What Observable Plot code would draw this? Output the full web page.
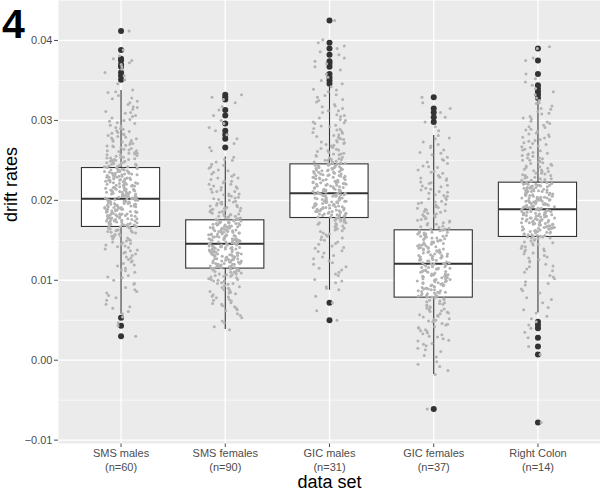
<!DOCTYPE html>
<html><head><meta charset="utf-8">
<script src="https://cdn.jsdelivr.net/npm/d3@7"></script>
<script src="https://cdn.jsdelivr.net/npm/@observablehq/plot@0.6"></script>
<style>
body{margin:0;background:#fff;font-family:"Liberation Sans",Arial,sans-serif;}
#wrap{position:relative;width:600px;height:494px;overflow:hidden;}
#tag{position:absolute;left:0;top:0;}
</style></head><body>
<div id="wrap"><div id="chart"></div>
<svg id="tag" width="45" height="48"><text x="2" y="38" font-family="Liberation Sans, Arial, sans-serif" font-weight="bold" font-size="41">4</text></svg>
</div>
<script>
// categories and labels
const groups = ["SMS males", "SMS females", "GIC males", "GIC females", "Right Colon"];
const groupN = ["(n=60)", "(n=90)", "(n=31)", "(n=37)", "(n=14)"];
const yTicks = [-0.01, 0.00, 0.01, 0.02, 0.03, 0.04];
const yMinor = [-0.005, 0.005, 0.015, 0.025, 0.035];

// boxplot statistics (drift rate)
const q1 = [0.01667, 0.01146, 0.01779, 0.00783, 0.01542];
const median = [0.02021, 0.01458, 0.02090, 0.01208, 0.01887];
const q3 = [0.02404, 0.01750, 0.02450, 0.01625, 0.02221];
const whiskerLow = [0.00575, 0.00383, 0.00875, -0.00179, 0.00592];
const whiskerHigh = [0.03375, 0.02542, 0.03417, 0.02812, 0.03250];

// outliers (drift rate)
const outSMSm = [0.0412, 0.0388, 0.0377, 0.0375, 0.0370, 0.0367, 0.0360, 0.0356, 0.0351, 0.0053, 0.0043, 0.0030];
const outSMSf = [0.0332, 0.0329, 0.0326, 0.0313, 0.0306, 0.0296, 0.0287, 0.0282, 0.0277, 0.0266];
const outGICm = [0.0425, 0.0397, 0.0390, 0.0382, 0.0374, 0.0371, 0.0367, 0.0358, 0.0354, 0.0350, 0.0346, 0.0072, 0.0050];
const outGICf = [0.0329, 0.0315, 0.0310, 0.0304, 0.0298, -0.0061];
const outRC = [0.0390, 0.0375, 0.0358, 0.0344, 0.0340, 0.0336, 0.0332, 0.0328, 0.0048, 0.0044, 0.0040, 0.0028, 0.0017, 0.0007, -0.0078];

// jittered drift rates (units of 1e-4)
const ptsSMSm = [412,388,381,377,375,372,370,367,364,360,356,351,346,
338,336,331,327,324,320,317,314,311,309,306,303,301,299,296,294,291,289,287,285,283,281,279,277,276,274,272,271,269,268,266,265,263,262,261,259,258,257,255,254,253,252,251,250,249,248,247,246,245,244,243,242,241,
240,239,239,238,237,236,236,235,234,234,233,232,231,231,230,229,228,228,227,226,225,225,224,223,222,222,221,220,219,219,218,217,216,216,215,214,213,213,212,211,210,210,209,208,207,207,206,205,204,204,203,202,
202,201,200,200,199,198,198,197,196,196,195,194,194,193,192,191,191,190,189,189,188,187,187,186,185,185,184,183,182,182,181,180,180,179,178,178,177,176,175,175,174,173,173,172,171,170,170,169,168,168,167,
166,165,164,163,162,161,160,159,157,156,155,154,152,151,149,148,146,145,143,141,139,137,135,133,131,128,126,123,121,118,115,113,110,106,104,100,96,91,88,84,81,75,70,65,58,54,47,43,30,
335,328,322,316,310,305,300,297,293,290,286,284,282,280,278,275,273,270,268,267,264,262,260,259,257,256,254,253,251,250,249,248,247,246,245,244,243,242,241,
240,239,238,237,237,236,235,234,233,233,232,231,230,229,229,228,227,226,226,225,224,223,222,221,221,220,219,218,218,217,216,215,214,214,213,212,211,211,210,209,208,208,207,206,205,205,204,203,202,201,201,200,199,199,198,197,196,195,195,194,193,192,192,191,190,189,188,188,187,186,186,185,184,183,183,182,181,181,180,179,178,177,177,176,175,174,174,173,172,171,171,170,169,168,167,
166,165,163,162,160,158,157,155,153,150,147,144,142,138,134,129,124,119,112,103,95,86,78,67,61];
const ptsSMSf = [332,329,326,322,317,313,306,300,296,291,287,282,277,271,266,262,
254,251,248,245,242,240,237,235,232,230,228,226,224,222,220,218,216,215,213,211,210,208,207,205,204,202,201,199,198,197,195,194,193,191,190,189,188,187,186,185,184,183,182,181,180,179,178,177,176,
175,174,174,173,172,171,171,170,169,168,168,167,166,166,165,164,163,163,162,161,160,160,159,158,157,157,156,155,155,154,153,152,152,151,150,150,149,148,147,147,146,
146,145,144,144,143,142,141,141,140,139,138,138,137,136,135,135,134,133,132,132,131,130,129,129,128,127,126,126,125,124,123,123,122,121,120,120,119,118,117,117,116,115,
114,113,112,111,110,109,108,107,106,105,104,102,101,100,99,97,96,95,93,92,90,89,87,85,84,82,80,78,76,74,72,70,68,65,62,58,53,47,42,38,
250,244,238,233,228,224,220,217,214,211,208,206,203,200,198,196,194,192,190,188,186,185,183,182,180,179,178,177,176,
175,174,173,172,172,171,170,169,169,168,167,166,165,165,164,163,162,162,161,160,159,158,158,157,156,155,154,154,153,152,151,151,150,149,148,148,147,146,145,145,144,143,142,142,141,140,139,139,138,137,136,136,135,134,133,133,132,131,130,130,129,128,127,127,126,125,124,124,123,122,121,121,120,119,118,118,117,116,115,
114,113,111,110,108,107,105,103,101,99,98,96,94,91,88,86,83,79,75,71,67,63,56,49];
const ptsGICm = [425,401,397,393,390,386,382,378,374,371,367,363,358,354,350,346,
342,339,336,332,329,326,323,320,317,315,312,310,307,305,303,300,298,296,294,292,290,288,286,284,282,280,278,277,275,273,272,270,268,267,265,264,262,261,259,258,257,255,254,252,251,250,249,248,247,246,
245,244,243,242,241,240,240,239,238,237,236,235,234,233,232,231,231,230,229,228,227,226,225,224,223,222,222,221,220,219,218,217,216,215,214,213,213,212,211,210,209,
209,208,207,206,206,205,204,203,202,202,201,200,199,198,198,197,196,195,194,194,193,192,191,190,190,189,188,187,186,186,185,184,183,182,182,181,180,179,178,
177,176,175,173,172,171,169,168,166,165,163,161,159,157,155,153,151,148,146,143,140,137,134,131,127,124,120,117,113,110,106,101,97,92,88,80,72,62,50,
338,331,325,318,312,306,301,297,293,289,285,281,279,276,273,271,269,266,263,260,258,256,253,251,250,248,247,246,
245,244,243,242,241,240,239,238,238,237,236,235,234,233,232,231,230,229,229,228,227,226,225,224,223,222,221,220,220,219,218,217,216,215,214,213,212,211,211,210,209,208,207,207,206,205,204,203,203,202,201,200,199,199,198,197,196,195,195,194,193,192,191,191,190,189,188,187,187,186,185,184,183,183,182,181,180,179,178,
177,175,174,172,170,167,164,162,158,154,150,145,141,136,129,122,115,108,99,90];
const ptsGICf = [329,322,315,310,304,298,292,287,
281,277,273,270,266,263,260,257,254,251,248,246,243,241,238,236,234,231,229,227,225,223,221,219,217,215,213,211,209,207,205,203,201,199,197,196,194,192,190,189,187,185,184,182,180,179,177,176,174,173,171,170,168,167,165,164,
163,162,161,160,159,158,157,156,155,154,153,152,151,150,149,148,147,146,145,144,143,142,141,140,139,138,137,136,135,134,133,132,131,130,129,128,127,126,125,124,123,122,121,
120,119,118,117,116,115,114,113,112,111,110,109,108,107,106,105,104,103,102,101,100,99,98,97,96,95,94,93,92,91,90,89,88,87,86,85,84,83,82,81,80,79,78,
77,75,74,72,71,69,68,66,65,63,61,60,58,56,54,52,50,48,46,44,42,40,38,36,34,32,29,27,24,21,18,15,11,6,-2,-8,-13,-18,-61,
278,268,259,250,242,235,228,222,218,214,210,206,202,198,195,191,188,186,183,181,178,175,172,169,166,164,
163,162,160,159,158,157,155,154,153,152,150,149,148,147,145,144,143,141,140,139,138,136,135,134,133,131,130,129,128,126,125,124,122,121,120,119,117,116,115,114,112,111,110,108,107,106,105,103,102,101,99,98,97,96,94,93,92,90,89,88,87,85,84,83,81,80,79,
76,73,70,67,64,62,59,57,55,51,49,45,41,37,33,30,25,20,13,4,-5];
const ptsRC = [392,390,378,375,358,352,348,344,340,336,332,328,
325,321,318,314,311,308,305,302,299,296,294,291,289,286,284,282,280,278,276,274,272,270,268,266,264,262,260,258,257,255,253,252,250,249,247,246,244,243,241,240,238,237,236,234,233,232,231,229,228,227,226,225,224,223,
222,221,220,219,219,218,217,216,215,215,214,213,212,211,211,210,209,208,207,207,206,205,204,203,203,202,201,200,199,199,198,197,196,195,195,194,193,192,191,191,190,189,
189,188,187,186,186,185,184,183,182,182,181,180,179,178,178,177,176,175,174,174,173,172,171,170,170,169,168,167,166,166,165,164,163,162,162,161,160,159,158,157,156,155,154,
153,152,150,149,147,146,144,142,140,138,136,134,131,129,126,123,120,117,114,110,106,102,98,94,89,84,78,72,66,59,52,48,44,40,35,28,17,7,-78,
322,315,309,303,298,292,288,283,279,275,271,267,263,259,256,253,250,248,245,242,239,236,234,231,229,227,225,223,
222,221,220,220,219,218,217,216,216,215,214,213,212,212,211,210,209,208,208,207,206,205,204,204,203,202,201,200,200,199,198,197,196,196,195,194,193,192,192,191,190,189,188,188,187,186,185,184,184,183,182,181,180,180,179,178,177,176,176,175,174,173,172,172,171,170,169,168,168,167,166,165,164,164,163,162,161,160,159,158,157,156,155,154,
153,151,148,145,143,139,137,133,128,124,118,112,104,96,87,76,63,55];

// ---- build tables ----
const pointSets = [ptsSMSm, ptsSMSf, ptsGICm, ptsGICf, ptsRC];
const outSets = [outSMSm, outSMSf, outGICm, outGICf, outRC];
const boxes = groups.map((name, i) => ({g: i + 1, q1: q1[i], med: median[i], q3: q3[i], wl: whiskerLow[i], wh: whiskerHigh[i]}));
const outliers = outSets.flatMap((arr, i) => arr.map(v => ({g: i + 1, v})));
function jit(k) { const s = Math.sin(k * 12.9898 + 78.233) * 43758.5453; return s - Math.floor(s) - 0.5; }
const points = pointSets.flatMap((arr, i) => arr.map((v, k) => ({g: i + 1, v: v / 10000, j: jit(i * 1000 + k + 1) * 0.32})));

const halfW = 0.375;
const ink = "#333333";
const chart = Plot.plot({
  width: 600,
  height: 494,
  marginLeft: 58,
  marginRight: 0,
  marginTop: 0,
  marginBottom: 51,
  style: {fontFamily: "Liberation Sans, Arial, sans-serif", fontSize: "11px", color: "#4d4d4d", background: "white"},
  x: {domain: [0.4, 5.6], ticks: [1, 2, 3, 4, 5], tickFormat: () => "", tickSize: 4, label: null},
  y: {domain: [-0.01042, 0.045], ticks: yTicks, tickFormat: d3.format(".2f"), tickSize: 4, tickPadding: 2, label: null},
  marks: [
    Plot.frame({fill: "#ebebeb", stroke: null}),
    Plot.ruleY(yMinor, {stroke: "white", strokeWidth: 0.6}),
    Plot.ruleY(yTicks, {stroke: "white", strokeWidth: 1.3}),
    Plot.ruleX([1, 2, 3, 4, 5], {stroke: "white", strokeWidth: 1.3}),
    Plot.ruleX(boxes, {x: "g", y1: "wl", y2: "q1", stroke: ink, strokeWidth: 1.1}),
    Plot.ruleX(boxes, {x: "g", y1: "q3", y2: "wh", stroke: ink, strokeWidth: 1.1}),
    Plot.rect(boxes, {x1: d => d.g - halfW, x2: d => d.g + halfW, y1: "q1", y2: "q3", fill: "white", stroke: ink, strokeWidth: 1.1}),
    Plot.ruleY(boxes, {y: "med", x1: d => d.g - halfW, x2: d => d.g + halfW, stroke: ink, strokeWidth: 2}),
    Plot.dot(outliers, {x: "g", y: "v", r: 3, fill: ink, stroke: null}),
    Plot.dot(points, {x: d => d.g + d.j, y: "v", r: 1.5, fill: "#b3b3b3", stroke: null}),
    Plot.text(groups, {x: (d, i) => i + 1, text: d => d, frameAnchor: "bottom", dy: 13, fill: "#4d4d4d", fontSize: 11}),
    Plot.text(groupN, {x: (d, i) => i + 1, text: d => d, frameAnchor: "bottom", dy: 27, fill: "#4d4d4d", fontSize: 11}),
    Plot.text(["data set"], {frameAnchor: "bottom", dy: 44, fill: "black", fontSize: 18}),
    Plot.text(["drift rates"], {frameAnchor: "left", dx: -47, rotate: -90, fill: "black", fontSize: 18})
  ]
});
document.getElementById("chart").appendChild(chart);
</script>
</body></html>
